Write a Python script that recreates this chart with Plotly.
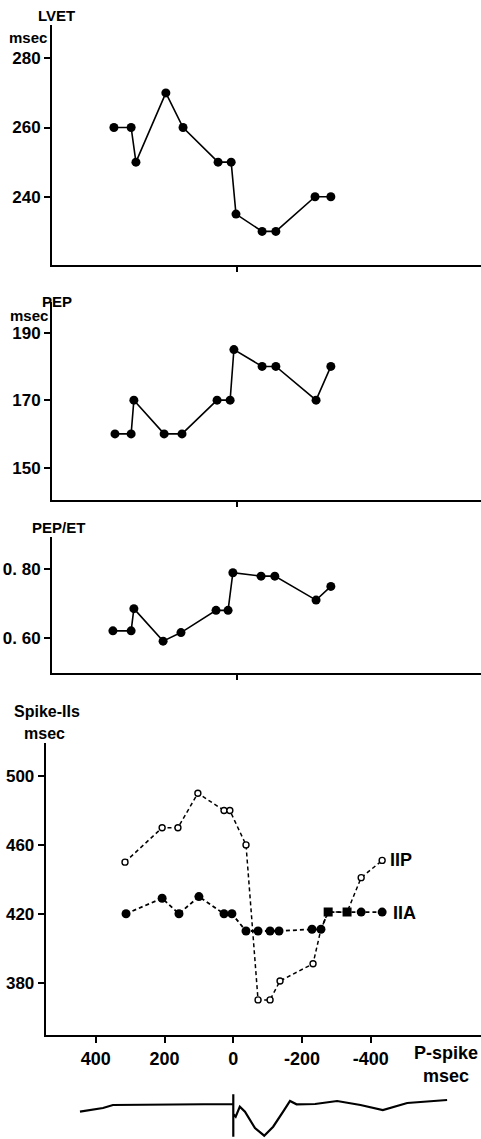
import plotly.graph_objects as go

W, H = 481, 1139

# ---------------- data ----------------
# Panel 1: LVET (msec) vs P-spike interval (msec)
lvet_x = [358, 308, 294, 207, 157, 55, 17, 3, -73, -113, -227, -273]
lvet_y = [260, 260, 250, 270, 260, 250, 250, 235, 230, 230, 240, 240]

# Panel 2: PEP (msec)
pep_x = [355, 308, 300, 212, 160, 58, 20, 9, -73, -113, -230, -273]
pep_y = [160, 160, 170, 160, 160, 170, 170, 185, 180, 180, 170, 180]

# Panel 3: PEP/ET ratio
ratio_x = [361, 308, 300, 215, 163, 61, 26, 12, -70, -110, -230, -273]
ratio_y = [0.62, 0.62, 0.685, 0.59, 0.615, 0.68, 0.68, 0.79, 0.78, 0.78, 0.71, 0.75]

# Panel 4: Spike-IIs intervals (msec)
iia_x = [312, 207, 158, 100, 27, 4, -37, -72, -107, -133, -229, -255, -276, -331, -372, -433]
iia_y = [420, 429, 420, 430, 420, 420, 410, 410, 410, 410, 411, 411, 421, 421, 421, 421]
iia_symbols = ["circle"] * 12 + ["square", "square", "circle", "circle"]

iip_x = [315, 207, 161, 103, 27, 10, -37, -72, -107, -136, -232, -255, -276, -331, -372, -433]
iip_y = [450, 470, 470, 490, 480, 480, 460, 370, 370, 381, 391, 411, 421, 421, 441, 451]

# ECG-like trace drawn under the time axis
ecg_x = [446, 379, 350, 3, 0, 0, 0, 0, -7, -19, -34, -63, -90, -116, -145,
         -165, -184, -238, -302, -370, -435, -506, -622]
ecg_y = [-7.7, -4, -1, 0, 0, 9.7, -32.7, -10, -12.7, -2.7, -7.7, -24, -31.7,
         -22.7, -7.7, 3, -0.3, 0, 3, -1, -6, 1, 4]

# tick labels
lvet_ticks = [240, 260, 280]
pep_ticks = [150, 170, 190]
ratio_ticks = [0.60, 0.80]
ratio_ticktext = ["0. 60", "0. 80"]
s2_ticks = [380, 420, 460, 500]
time_ticks = [400, 200, 0, -200, -400]

# ---------------- helpers ----------------
def py(p):
    return 1 - p / H

def px(p):
    return p / W

FONT = "Liberation Sans, Arial, Helvetica, sans-serif"

fig = go.Figure()

line_style = dict(color="black", width=1.6)
mk = dict(color="black", size=9)

fig.add_trace(go.Scatter(x=lvet_x, y=lvet_y, mode="lines+markers", line=line_style,
                         marker=mk, xaxis="x", yaxis="y", showlegend=False))
fig.add_trace(go.Scatter(x=pep_x, y=pep_y, mode="lines+markers", line=line_style,
                         marker=mk, xaxis="x2", yaxis="y2", showlegend=False))
fig.add_trace(go.Scatter(x=ratio_x, y=ratio_y, mode="lines+markers", line=line_style,
                         marker=mk, xaxis="x3", yaxis="y3", showlegend=False))
fig.add_trace(go.Scatter(x=iip_x, y=iip_y, mode="lines+markers",
                         line=dict(color="black", width=1.5, dash="4px,3px"),
                         marker=dict(color="white", size=6, line=dict(color="black", width=1.4)),
                         xaxis="x4", yaxis="y4", showlegend=False))
fig.add_trace(go.Scatter(x=iia_x, y=iia_y, mode="lines+markers",
                         line=dict(color="black", width=1.8, dash="4px,3px"),
                         marker=dict(color="black", size=9, symbol=iia_symbols),
                         xaxis="x4", yaxis="y4", showlegend=False))
fig.add_trace(go.Scatter(x=ecg_x, y=ecg_y, mode="lines",
                         line=dict(color="black", width=2.2),
                         xaxis="x4", yaxis="y5", showlegend=False))

axis_common = dict(showline=True, linecolor="black", linewidth=2, showgrid=False,
                   zeroline=False, ticks="outside", ticklen=6, tickwidth=2,
                   tickcolor="black")

top_xrange = [538.2, -709.8]
bot_xrange = [545.7, -720.6]

def top_x(anchor):
    return dict(axis_common, domain=[px(52), 1], range=top_xrange, anchor=anchor,
                tickvals=[0], ticktext=[""], ticklen=5)

yfont = dict(family=FONT, size=17, color="black", weight="bold")

fig.update_layout(
    width=W, height=H,
    margin=dict(l=0, r=0, t=0, b=0),
    paper_bgcolor="white", plot_bgcolor="white",
    xaxis=top_x("y"),
    xaxis2=top_x("y2"),
    xaxis3=top_x("y3"),
    xaxis4=dict(axis_common, domain=[px(45.7), 1], range=bot_xrange, anchor="y4",
                tickvals=time_ticks, ticktext=[str(v) for v in time_ticks],
                tickfont=dict(family=FONT, size=18, color="black", weight="bold")),
    yaxis=dict(axis_common, domain=[py(265), py(25)], range=[220.3, 289.6], anchor="x",
               tickvals=lvet_ticks, tickfont=yfont),
    yaxis2=dict(axis_common, domain=[py(500), py(302)], range=[140.4, 199.1], anchor="x2",
                tickvals=pep_ticks, tickfont=yfont),
    yaxis3=dict(axis_common, domain=[py(672.7), py(537)], range=[0.4977, 0.8944], anchor="x3",
                tickvals=ratio_ticks, ticktext=ratio_ticktext, tickfont=yfont),
    yaxis4=dict(axis_common, domain=[py(1035), py(743)], range=[349.6, 519.2], anchor="x4",
                tickvals=s2_ticks, tickfont=yfont),
    yaxis5=dict(domain=[0, py(1090)], range=[-35, 14], anchor="x4", visible=False),
)

def label(text, x, y, size=14):
    fig.add_annotation(text=text, x=px(x), y=py(y), xref="paper", yref="paper",
                       showarrow=False, xanchor="center", yanchor="middle",
                       font=dict(family=FONT, size=size, color="black", weight="bold"))

label("LVET", 56, 16, size=15)
label("msec", 28, 37, size=15)
label("PEP", 57, 301, size=15)
label("msec", 29, 315, size=15)
label("PEP/ET", 58, 527, size=15)
label("Spike-IIs", 47, 711, size=16)
label("msec", 44, 733, size=16)
label("IIP", 401, 860, size=18)
label("IIA", 404, 913, size=18)
label("P-spike", 446, 1053, size=18)
label("msec", 446, 1076, size=18)

fig.write_html("out.html")
